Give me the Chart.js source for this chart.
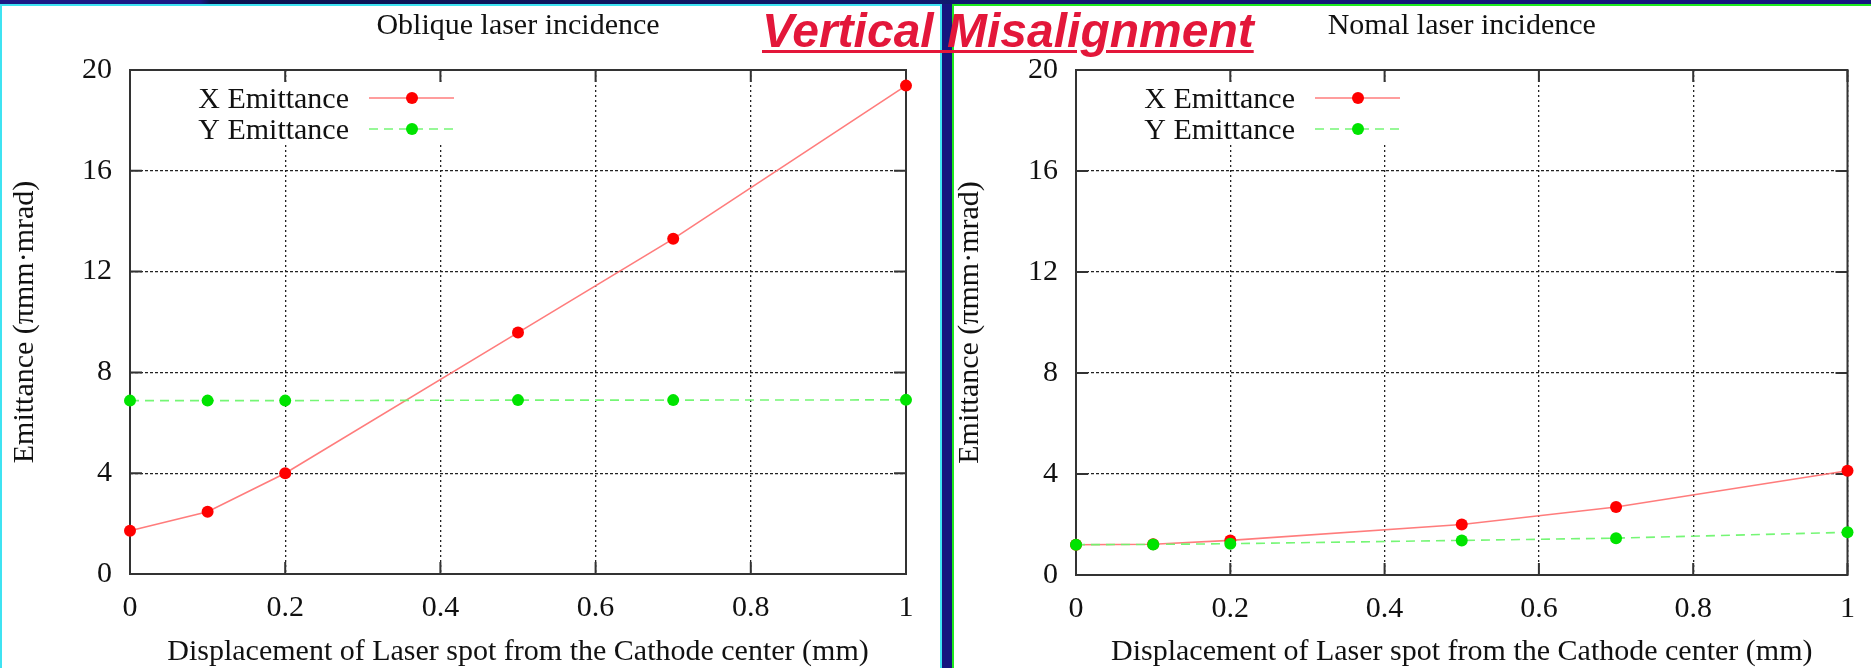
<!DOCTYPE html>
<html>
<head>
<meta charset="utf-8">
<title>Vertical Misalignment</title>
<script src="https://cdn.jsdelivr.net/npm/chart.js@4.4.1/dist/chart.umd.min.js"></script>
<style>
html, body { margin: 0; padding: 0; }
body { width: 1871px; height: 668px; background: #15157f; position: relative; overflow: hidden; }
#topband { position: absolute; left: 0; top: 0; width: 1871px; height: 4px;
  background: linear-gradient(90deg, #1a1a86 0px, #1a1a86 200px, #0b1350 210px, #111a70 1000px, #15157f 1871px); }
.panel { position: absolute; top: 4px; height: 664px; background: #fff; box-sizing: border-box; }
#panel-left { left: 0; width: 942px; border: 2px solid #3fe3f2; border-bottom: none; }
#panel-right { left: 952px; width: 919px; border: 2px solid #1ee81e; border-bottom: none; border-right: none; }
canvas { position: absolute; top: 0; }
#oblique-chart { left: 0; }
#normal-chart { left: 952px; }
#headline { position: absolute; left: 762px; top: 7px; white-space: nowrap;
  font: italic bold 48px "Liberation Sans", Arial, sans-serif; line-height: 48px; color: #e3173a;
  text-decoration: underline; text-decoration-thickness: 3px; text-underline-offset: 3px; z-index: 5; }
</style>
</head>
<body>
<div id="topband"></div>
<div class="panel" id="panel-left"></div>
<div class="panel" id="panel-right"></div>
<canvas id="oblique-chart" width="942" height="668"></canvas>
<canvas id="normal-chart" width="919" height="668"></canvas>
<div id="headline">Vertical Misalignment</div>

<script>
// Displacement of the laser spot (mm)
const displacement = [0, 0.1, 0.2, 0.5, 0.7, 1.0];

// Oblique laser incidence
const obliqueXEmittance = [1.72, 2.47, 4.0, 9.58, 13.3, 19.38];
const obliqueYEmittance = [6.88, 6.88, 6.88, 6.9, 6.9, 6.91];

// Normal laser incidence
const normalXEmittance = [1.2, 1.22, 1.37, 2.0, 2.69, 4.13];
const normalYEmittance = [1.2, 1.21, 1.24, 1.37, 1.46, 1.69];

const seriesNames = ['X Emittance', 'Y Emittance'];
const xTicks = [0, 0.2, 0.4, 0.6, 0.8, 1];
const xTickLabels = ['0', '0.2', '0.4', '0.6', '0.8', '1'];
const yTicks = [0, 4, 8, 12, 16, 20];
const yTickLabels = ['0', '4', '8', '12', '16', '20'];

const xAxisTitle = 'Displacement of Laser spot from the Cathode center (mm)';
const yAxisTitle = 'Emittance (\u03c0mm\u00b7mrad)';

const serif = '"Liberation Serif", "Times New Roman", serif';
Chart.defaults.font.family = serif;

// gnuplot-like frame: white key box, key entries, box border, inward ticks, subtitle
const gnuplotFrame = {
    id: 'gnuplotFrame',
    beforeDatasetsDraw(chart, args, opts) {
        const { ctx, chartArea: a, scales: { x, y } } = chart;
        ctx.save();

        // key background hides the grid behind it
        ctx.fillStyle = '#fff';
        ctx.fillRect(a.left + 14, a.top + 14, 322, 59);

        ctx.font = '30px ' + serif;
        ctx.textAlign = 'right';
        ctx.textBaseline = 'alphabetic';
        chart.data.datasets.forEach((ds, i) => {
            const rowY = a.top + 28 + i * 31;
            ctx.fillStyle = '#111';
            ctx.fillText(ds.label, a.left + 219, rowY + 10);
            ctx.strokeStyle = ds.borderColor;
            ctx.lineWidth = ds.borderWidth;
            ctx.setLineDash(ds.borderDash || []);
            ctx.beginPath();
            ctx.moveTo(a.left + 239, rowY);
            ctx.lineTo(a.left + 324, rowY);
            ctx.stroke();
            ctx.setLineDash([]);
            ctx.fillStyle = ds.pointBackgroundColor;
            ctx.beginPath();
            ctx.arc(a.left + 282, rowY, ds.pointRadius, 0, Math.PI * 2);
            ctx.fill();
        });

        // frame
        ctx.setLineDash([]);
        ctx.strokeStyle = '#333';
        ctx.lineWidth = 2;
        ctx.strokeRect(a.left, a.top, a.right - a.left, a.bottom - a.top);

        // inward ticks
        ctx.beginPath();
        xTicks.forEach(v => {
            const px = x.getPixelForValue(v);
            ctx.moveTo(px, a.bottom); ctx.lineTo(px, a.bottom - 12);
            ctx.moveTo(px, a.top); ctx.lineTo(px, a.top + 12);
        });
        yTicks.forEach(v => {
            const py = y.getPixelForValue(v);
            ctx.moveTo(a.left, py); ctx.lineTo(a.left + 12, py);
            ctx.moveTo(a.right, py); ctx.lineTo(a.right - 12, py);
        });
        ctx.stroke();

        // subtitle
        ctx.fillStyle = '#111';
        ctx.textAlign = 'center';
        ctx.fillText(opts.subtitle, (a.left + a.right) / 2, 34);
        ctx.restore();
    }
};

function drawEmittanceChart(canvasId, subtitle, xSeries, ySeries, geom) {
    const ctx = document.getElementById(canvasId).getContext('2d');
    return new Chart(ctx, {
        type: 'line',
        data: {
            datasets: [{
                label: seriesNames[0],
                data: displacement.map((d, i) => ({ x: d, y: xSeries[i] })),
                borderColor: 'rgba(255, 110, 110, 0.9)',
                borderWidth: 1.6,
                pointRadius: 6,
                pointBackgroundColor: '#ff0000',
                pointBorderWidth: 0,
                tension: 0,
                clip: false,
                order: 1
            }, {
                label: seriesNames[1],
                data: displacement.map((d, i) => ({ x: d, y: ySeries[i] })),
                borderColor: 'rgba(110, 245, 110, 0.95)',
                borderWidth: 1.6,
                borderDash: [9, 6],
                pointRadius: 6,
                pointBackgroundColor: '#00e400',
                pointBorderWidth: 0,
                tension: 0,
                clip: false,
                order: 0
            }]
        },
        options: {
            responsive: false,
            animation: false,
            layout: { padding: { top: 70, right: geom.right, left: 0, bottom: 0 } },
            scales: {
                x: {
                    type: 'linear',
                    min: 0,
                    max: 1,
                    afterBuildTicks: s => { s.ticks = xTicks.map(v => ({ value: v })); },
                    afterFit: s => { s.height = geom.bottom; },
                    ticks: {
                        callback: (v, i) => xTickLabels[i],
                        font: { size: 30 },
                        color: '#111',
                        padding: 16,
                        maxRotation: 0,
                        autoSkip: false
                    },
                    grid: { color: '#222', lineWidth: 1.3, drawTicks: false },
                    border: { display: false, dash: [2, 3] },
                    title: {
                        display: true,
                        text: xAxisTitle,
                        font: { size: 30, lineHeight: 1.05 },
                        color: '#111',
                        padding: { top: 0, bottom: 0 }
                    }
                },
                y: {
                    type: 'linear',
                    min: 0,
                    max: 20,
                    afterBuildTicks: s => { s.ticks = yTicks.map(v => ({ value: v })); },
                    afterFit: s => { s.width = geom.left; },
                    ticks: {
                        callback: (v, i) => yTickLabels[i],
                        font: { size: 30 },
                        color: '#111',
                        padding: 18
                    },
                    grid: { color: '#222', lineWidth: 1.3, drawTicks: false },
                    border: { display: false, dash: [3, 2] },
                    title: {
                        display: true,
                        text: yAxisTitle,
                        font: { size: 30 },
                        color: '#111',
                        padding: { top: geom.titlePad, bottom: 0 }
                    }
                }
            },
            plugins: {
                legend: { display: false },
                tooltip: { enabled: false },
                gnuplotFrame: { subtitle: subtitle }
            }
        },
        plugins: [gnuplotFrame]
    });
}

drawEmittanceChart('oblique-chart', 'Oblique laser incidence', obliqueXEmittance, obliqueYEmittance,
    { left: 130, right: 36, bottom: 94, titlePad: 7 });
drawEmittanceChart('normal-chart', 'Nomal laser incidence', normalXEmittance, normalYEmittance,
    { left: 124, right: 18, bottom: 93, titlePad: 0 });
</script>
</body>
</html>
